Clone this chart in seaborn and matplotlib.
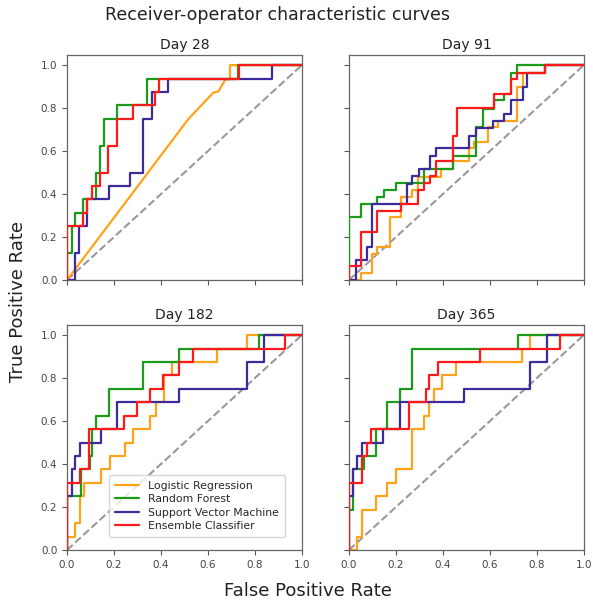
import matplotlib
matplotlib.use("Agg")
import matplotlib.pyplot as plt
import numpy as np
import pandas as pd
import seaborn as sns

# ROC curves: each list holds the (fpr, tpr) points where
# the curve steps up; steps are drawn horizontal-then-vertical.
days = ["Day 28", "Day 91", "Day 182", "Day 365"]
models = ["Logistic Regression", "Random Forest",
          "Support Vector Machine", "Ensemble Classifier"]
colors = ["#ffa31a", "#1a9c1a", "#3d2a9c", "#ff1a1a"]

# Day 28 (16 positives -> tpr in sixteenths)
d28_lr_fpr = [0.0, 0.516, 0.623, 0.644, 0.675, 0.694, 0.694, 1.0]
d28_lr_tpr = [0.0, 0.748, 0.872, 0.877, 0.934, 0.934, 1.0, 1.0]
d28_rf_fpr = [0.0, 0.0, 0.02, 0.034, 0.07, 0.123, 0.14, 0.159, 0.214, 0.339, 0.73, 1.0]
d28_rf_tpr = [0, 2, 4, 5, 6, 8, 10, 12, 13, 15, 16, 16]
d28_svm_fpr = [0.0, 0.034, 0.052, 0.087, 0.179, 0.268, 0.322, 0.36, 0.431, 0.874, 1.0]
d28_svm_tpr = [0, 2, 4, 6, 7, 8, 12, 14, 15, 16, 16]
d28_ens_fpr = [0.0, 0.0, 0.067, 0.087, 0.105, 0.14, 0.176, 0.211, 0.282, 0.374, 0.393, 0.732, 1.0]
d28_ens_tpr = [0, 4, 5, 6, 7, 8, 10, 12, 13, 14, 15, 16, 16]

# Day 91
d91_lr_fpr = [0.0, 0.053, 0.1, 0.121, 0.175, 0.223, 0.27, 0.295, 0.391, 0.445,
              0.512, 0.533, 0.59, 0.633, 0.714, 0.74, 0.835, 1.0]
d91_lr_tpr = [0.0, 0.031, 0.123, 0.154, 0.293, 0.386, 0.417, 0.478, 0.517, 0.556,
              0.613, 0.64, 0.71, 0.741, 0.898, 0.965, 1.0, 1.0]
d91_rf_fpr = [0.0, 0.0, 0.053, 0.121, 0.147, 0.199, 0.32, 0.445, 0.541, 0.569,
              0.616, 0.661, 0.69, 0.714, 1.0]
d91_rf_tpr = [0.0, 0.295, 0.353, 0.386, 0.417, 0.451, 0.517, 0.579, 0.71, 0.795,
              0.836, 0.867, 0.965, 1.0, 1.0]
d91_svm_fpr = [0.0, 0.028, 0.075, 0.1, 0.246, 0.27, 0.299, 0.345, 0.37, 0.512,
               0.541, 0.612, 0.661, 0.69, 0.74, 0.758, 0.835, 1.0]
d91_svm_tpr = [0.0, 0.093, 0.154, 0.352, 0.448, 0.482, 0.517, 0.579, 0.613, 0.671,
               0.707, 0.741, 0.772, 0.836, 0.898, 0.965, 1.0, 1.0]
d91_ens_fpr = [0.0, 0.0, 0.053, 0.121, 0.223, 0.295, 0.32, 0.345, 0.37, 0.441,
               0.462, 0.616, 0.69, 0.714, 0.835, 1.0]
d91_ens_tpr = [0.0, 0.065, 0.224, 0.321, 0.352, 0.417, 0.451, 0.486, 0.556, 0.671,
               0.802, 0.867, 0.934, 0.965, 1.0, 1.0]

# Day 182 (16 positives)
d182_lr_fpr = [0.0, 0.0, 0.035, 0.057, 0.071, 0.144, 0.181, 0.248, 0.28, 0.354,
               0.38, 0.411, 0.446, 0.64, 0.768, 1.0]
d182_lr_tpr = [0, 1, 2, 4, 5, 6, 7, 8, 9, 10, 11, 13, 14, 15, 16, 16]
d182_rf_fpr = [0.0, 0.0, 0.059, 0.096, 0.106, 0.125, 0.177, 0.323, 0.479, 0.819, 1.0]
d182_rf_tpr = [0, 4, 6, 7, 9, 10, 12, 14, 15, 16, 16]
d182_svm_fpr = [0.0, 0.0, 0.021, 0.035, 0.057, 0.144, 0.212, 0.479, 0.768, 0.839, 1.0]
d182_svm_tpr = [0, 4, 6, 7, 8, 9, 11, 12, 14, 16, 16]
d182_ens_fpr = [0.0, 0.0, 0.057, 0.092, 0.244, 0.3, 0.354, 0.408, 0.479, 0.535, 0.929, 1.0]
d182_ens_tpr = [0, 5, 6, 9, 10, 11, 12, 13, 14, 15, 16, 16]

# Day 365 (16 positives)
d365_lr_fpr = [0.0, 0.036, 0.057, 0.114, 0.164, 0.199, 0.27, 0.32, 0.341, 0.36,
               0.398, 0.455, 0.735, 0.772, 1.0]
d365_lr_tpr = [0, 1, 3, 4, 5, 6, 9, 10, 11, 12, 13, 14, 15, 16, 16]
d365_rf_fpr = [0.0, 0.0, 0.018, 0.064, 0.114, 0.164, 0.218, 0.27, 0.718, 1.0]
d365_rf_tpr = [0, 3, 6, 7, 9, 11, 12, 15, 16, 16]
d365_svm_fpr = [0.0, 0.0, 0.018, 0.036, 0.057, 0.146, 0.218, 0.488, 0.772, 0.843, 1.0]
d365_svm_tpr = [0, 4, 6, 7, 8, 9, 11, 12, 14, 16, 16]
d365_ens_fpr = [0.0, 0.0, 0.057, 0.075, 0.092, 0.256, 0.327, 0.341, 0.377, 0.559, 0.9, 1.0]
d365_ens_tpr = [0, 5, 7, 8, 9, 11, 12, 13, 14, 15, 16, 16]

curves = {
    "Day 28": [(d28_lr_fpr, d28_lr_tpr, 1), (d28_rf_fpr, d28_rf_tpr, 16),
               (d28_svm_fpr, d28_svm_tpr, 16), (d28_ens_fpr, d28_ens_tpr, 16)],
    "Day 91": [(d91_lr_fpr, d91_lr_tpr, 1), (d91_rf_fpr, d91_rf_tpr, 1),
               (d91_svm_fpr, d91_svm_tpr, 1), (d91_ens_fpr, d91_ens_tpr, 1)],
    "Day 182": [(d182_lr_fpr, d182_lr_tpr, 16), (d182_rf_fpr, d182_rf_tpr, 16),
                (d182_svm_fpr, d182_svm_tpr, 16), (d182_ens_fpr, d182_ens_tpr, 16)],
    "Day 365": [(d365_lr_fpr, d365_lr_tpr, 16), (d365_rf_fpr, d365_rf_tpr, 16),
                (d365_svm_fpr, d365_svm_tpr, 16), (d365_ens_fpr, d365_ens_tpr, 16)],
}


def step_points(fpr, tpr):
    # build the corner points of a horizontal-then-vertical step curve
    xs, ys = [fpr[0]], [tpr[0]]
    for x, y in zip(fpr[1:], tpr[1:]):
        xs += [x, x]
        ys += [ys[-1], y]
    return xs, ys


sns.set_style("white")
plt.rcParams["font.family"] = ["DejaVu Sans"]

fig = plt.figure(figsize=(5.93, 6.04), dpi=100)
lefts = [0.113, 0.5885]
bottoms = [0.5364, 0.0894]
axes = []
for r in range(2):
    for c in range(2):
        axes.append(fig.add_axes([lefts[c], bottoms[r], 0.396, 0.3725]))

for i, (ax, day) in enumerate(zip(axes, days)):
    ax.plot([0, 1], [0, 1], color="#999999", ls="--", lw=1.5, zorder=1)
    for j, (fpr, tpr, scale) in enumerate(curves[day]):
        tpr = [t / scale for t in tpr]
        if day == "Day 28" and j == 0:
            xs, ys = fpr, tpr  # this one is drawn point to point
        else:
            xs, ys = step_points(fpr, tpr)
        df = pd.DataFrame({"fpr": xs, "tpr": ys})
        sns.lineplot(data=df, x="fpr", y="tpr", sort=False, estimator=None,
                     color=colors[j], lw=1.6, label=models[j], ax=ax, zorder=2 + j)
    ax.set_xlim(0, 1)
    ax.set_ylim(0, 1.047)
    ax.set_xticks(np.arange(0, 1.01, 0.2))
    ax.set_yticks(np.arange(0, 1.01, 0.2))
    ax.tick_params(labelsize=7.5, colors="#555555", labelcolor="#444444",
                   length=3.5, width=0.8, bottom=True, left=True)
    for s in ax.spines.values():
        s.set_color("#666666")
        s.set_linewidth(0.9)
    ax.set_xlabel("")
    ax.set_ylabel("")
    ax.set_title(day, fontsize=10, color="#222222", pad=4)
    if i < 2:
        ax.set_xticklabels([])
    if i % 2 == 1:
        ax.set_yticklabels([])
    if i == 2:
        ax.legend(loc="lower right", bbox_to_anchor=(0.95, 0.035), fontsize=7.8,
                  frameon=True, borderpad=0.55, labelspacing=0.3, handlelength=2.2)
    else:
        ax.get_legend().remove()

fig.text(0.468, 0.975, "Receiver-operator characteristic curves", ha="center",
         va="center", fontsize=12.5, color="#222222")
fig.text(0.03, 0.5, "True Positive Rate", rotation=90, ha="center", va="center",
         fontsize=13, color="#222222")
fig.text(0.52, 0.022, "False Positive Rate", ha="center", va="center",
         fontsize=13, color="#222222")

fig.savefig("out.png", dpi=100)
